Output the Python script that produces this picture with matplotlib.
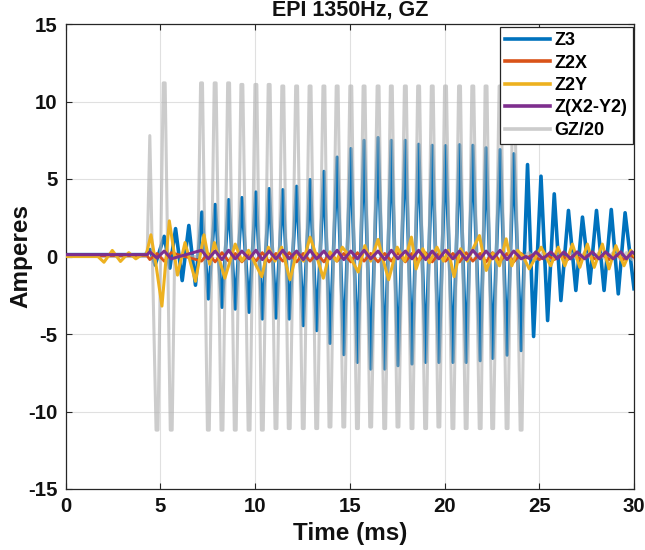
import numpy as np
import matplotlib
matplotlib.use("Agg")
import matplotlib.pyplot as plt

# ---------------- data ----------------
# GZ/20 : centres (ms) and plateau amplitudes of the trapezoid lobes
gz_lobe_t = [4.44, 4.82, 5.20, 5.57,
             7.17, 7.53, 7.89, 8.25, 8.60, 8.95, 9.30, 9.68, 10.04, 10.38,
             10.74, 11.10, 11.46, 11.80, 12.19, 12.54, 12.90, 13.25, 13.63, 13.95,
             14.33, 14.68, 15.05, 15.40, 15.75, 16.10, 16.49, 16.84, 17.19, 17.54,
             17.93, 18.28, 18.63, 19.00, 19.35, 19.70, 20.05, 20.44, 20.79, 21.14,
             21.49, 21.88, 22.19, 22.54, 22.93, 23.30, 23.65, 24.04]
gz_lobe_amp = [7.8, -11.2, 11.2, -11.2,
               11.2, -11.2, 11.2, -11.2, 11.2, -11.2, 11.1, -11.2, 11.1, -11.2,
               11.1, -11.1, 11.0, -11.1, 11.0, -11.1, 11.0, -11.1, 11.0, -11.0,
               11.0, -11.0, 11.0, -11.1, 11.0, -11.0, 11.0, -11.1, 11.0, -11.0,
               11.0, -11.1, 11.0, -11.1, 11.0, -11.0, 11.0, -11.1, 11.0, -11.1,
               11.0, -11.1, 11.0, -11.1, 11.0, -11.1, 11.0, -11.2]
gz_zero_t = [0.0, 4.30, 5.75, 6.98, 24.22]
gz_tail_t = [24.45, 24.82, 25.20, 25.61, 25.95, 26.30, 26.65, 27.00, 27.40,
             27.80, 28.15, 28.50, 28.90, 29.30, 29.60, 29.90, 30.00]
gz_tail_v = [0.25, -0.20, 0.25, -0.20, 0.25, -0.20, 0.25, -0.20, 0.25,
             -0.20, 0.25, -0.20, 0.25, -0.20, 0.25, -0.20, -0.10]

# Z3 : extrema (ms, A)
z3_t = [0.0, 4.20, 4.45, 4.72, 5.20, 5.50, 5.80, 6.15, 6.50, 6.85,
        7.19, 7.53, 7.89, 8.25, 8.60, 8.95, 9.30, 9.68, 10.04, 10.38,
        10.74, 11.10, 11.46, 11.80, 12.19, 12.54, 12.90, 13.25, 13.63, 13.95,
        14.33, 14.68, 15.05, 15.40, 15.75, 16.10, 16.49, 16.84, 17.19, 17.54,
        17.93, 18.28, 18.63, 19.00, 19.35, 19.70, 20.05, 20.44, 20.79, 21.14,
        21.49, 21.88, 22.19, 22.54, 22.93, 23.30, 23.65, 24.04,
        24.38, 24.70, 25.09, 25.44, 25.79, 26.14, 26.54, 26.93, 27.28, 27.67,
        28.02, 28.42, 28.80, 29.17, 29.53, 30.00]
z3_v = [0.12, 0.12, 0.45, -0.55, 1.30, -0.75, 1.80, -1.55, 2.00, -1.85,
        2.86, -2.73, 3.35, -3.27, 3.66, -3.38, 3.79, -3.59, 4.15, -4.02,
        4.37, -3.96, 4.30, -4.02, 4.52, -4.45, 4.95, -4.77, 5.48, -5.59,
        6.40, -6.32, 6.95, -6.82, 7.48, -7.25, 7.66, -7.25, 7.48, -7.03,
        7.48, -6.92, 7.23, -6.82, 7.16, -6.82, 7.14, -6.82, 7.20, -6.82,
        7.16, -6.71, 7.00, -6.56, 6.88, -6.35, 6.62, -6.06,
        5.93, -5.16, 5.18, -4.13, 4.04, -2.84, 2.97, -2.19, 2.54, -1.72,
        2.97, -2.19, 3.03, -2.41, 2.82, -2.08]

# Z2Y : extrema (ms, A)
z2y_t = [0.0, 1.70, 2.02, 2.46, 2.89, 3.33, 3.70, 4.00, 4.25, 4.50,
         4.75, 5.08, 5.47, 5.90, 6.30, 6.85, 7.30, 7.60, 7.85, 8.40,
         8.95, 9.30, 9.65, 10.35, 10.70, 11.05, 11.40, 11.84, 12.20, 12.55,
         12.90, 13.25, 13.60, 13.95, 14.30, 14.60, 15.00, 15.44, 15.79, 16.10,
         16.49, 16.75, 17.05, 17.50, 17.90, 18.25, 18.50, 18.85, 19.20, 19.60,
         19.95, 20.20, 20.50, 20.85, 21.20, 21.50, 21.84, 22.20, 22.55, 22.90,
         23.25, 23.55, 23.85, 24.15, 24.47, 25.10, 25.60, 26.00, 26.35, 26.75,
         27.14, 27.54, 27.90, 28.33, 28.68, 29.04, 29.47, 29.83, 30.00]
z2y_v = [0.0, 0.0, -0.37, 0.39, -0.32, 0.25, -0.15, 0.10, 0.10, 1.40,
         -0.40, -3.20, 2.30, -1.20, 0.90, -1.60, 1.40, -0.50, 0.90, -1.40,
         0.80, -0.30, 0.40, -1.30, 0.60, -0.30, 0.60, -1.50, 0.30, -0.30,
         1.25, 0.00, -1.40, 0.30, -0.30, 0.60, 0.00, -1.00, 0.70, -0.30,
         1.10, -0.20, -1.50, 0.60, -0.30, 1.25, -0.80, 0.50, -0.40, 0.60,
         -0.30, 0.40, -1.30, 0.50, -0.30, 0.50, 1.35, -0.90, 0.20, -0.60,
         1.14, -0.60, 0.40, 0.00, -0.80, 0.60, -0.60, 0.60, -0.60, 0.80,
         -0.70, 0.80, -0.70, 0.80, -0.80, 0.70, -0.60, 0.40, 0.10]

# Z(X2-Y2) and Z2X : values at the GZ lobe centres, plus baseline and tail
zx2y2_base_t = [0.0, 4.30]
zx2y2_base_v = [0.12, 0.12]
zx2y2_lobe_v = [0.30, -0.10, 0.35, -0.15,
                0.40, -0.15, 0.35, -0.20, 0.40, -0.15, 0.35, -0.15, 0.40, -0.20,
                0.35, -0.15, 0.40, -0.15, 0.35, -0.20, 0.40, -0.15, 0.35, -0.15,
                0.40, -0.20, 0.35, -0.15, 0.40, -0.15, 0.35, -0.20, 0.40, -0.15,
                0.35, -0.15, 0.40, -0.20, 0.35, -0.15, 0.40, -0.15, 0.35, -0.20,
                0.40, -0.15, 0.35, -0.15, 0.40, -0.20, 0.35, -0.15]
zx2y2_tail_t = [24.30, 24.50, 24.82, 25.20, 25.61, 25.95, 26.30, 26.65, 27.00,
                27.40, 27.80, 28.15, 28.50, 28.90, 29.30, 29.60, 29.90, 30.00]
zx2y2_tail_v = [0.00, -0.15, 0.30, -0.15, 0.30, -0.15, 0.30, -0.15, 0.30,
                -0.15, 0.30, -0.15, 0.30, -0.15, 0.30, -0.15, 0.30, 0.20]

z2x_base_t = [0.0, 4.30]
z2x_base_v = [0.05, 0.05]
z2x_lobe_v = [-0.20, 0.20, -0.30, 0.25,
              -0.30, 0.20, -0.35, 0.25, -0.30, 0.20, -0.35, 0.20, -0.30, 0.25,
              -0.35, 0.20, -0.30, 0.25, -0.35, 0.20, -0.30, 0.20, -0.35, 0.25,
              -0.30, 0.20, -0.35, 0.25, -0.30, 0.20, -0.35, 0.20, -0.30, 0.25,
              -0.35, 0.20, -0.30, 0.25, -0.35, 0.20, -0.30, 0.20, -0.35, 0.25,
              -0.30, 0.20, -0.35, 0.25, -0.30, 0.20, -0.35, 0.20]
z2x_tail_t = [24.30, 24.65, 25.00, 25.40, 25.80, 26.15, 26.50, 26.85, 27.20,
              27.60, 28.00, 28.35, 28.70, 29.10, 29.45, 29.80, 30.00]
z2x_tail_v = [-0.10, 0.10, -0.20, 0.10, -0.20, 0.10, -0.20, 0.10, -0.20,
              0.10, -0.20, 0.10, -0.20, 0.10, -0.20, 0.10, -0.05]

# ---------------- build GZ/20 trapezoid vertices ----------------
gz_pts = [(t, 0.0) for t in gz_zero_t]
for t, a in zip(gz_lobe_t, gz_lobe_amp):
    w = 0.05 if abs(a) > 9 else 0.0
    if w:
        gz_pts += [(t - w, a), (t + w, a)]
    else:
        gz_pts.append((t, a))
gz_pts += list(zip(gz_tail_t, gz_tail_v))
gz_pts.sort()
gz_t = [p[0] for p in gz_pts]
gz_v = [p[1] for p in gz_pts]

zx2y2_t = zx2y2_base_t + gz_lobe_t + zx2y2_tail_t
zx2y2_v = zx2y2_base_v + zx2y2_lobe_v + zx2y2_tail_v
z2x_t = z2x_base_t + gz_lobe_t + z2x_tail_t
z2x_v = z2x_base_v + z2x_lobe_v + z2x_tail_v

# ---------------- figure ----------------
plt.rcParams['font.family'] = ['Liberation Sans', 'DejaVu Sans']
plt.rcParams['font.weight'] = 'bold'
plt.rcParams['axes.unicode_minus'] = False

fig = plt.figure(figsize=(6.45, 5.5), dpi=100)
L, R, T, B = 65.7, 634.0, 24.0, 489.0
ax = fig.add_axes([L / 645, 1 - B / 550, (R - L) / 645, (B - T) / 550])

h_z3, = ax.plot(z3_t, z3_v, color='#0072BD', lw=2.6, zorder=2, label='Z3',
                solid_joinstyle='round')
h_gz, = ax.plot(gz_t, gz_v, color='#B4B4B4', alpha=0.68, lw=2.2, zorder=3,
                label='GZ/20', solid_joinstyle='round')
h_z2x, = ax.plot(z2x_t, z2x_v, color='#D95319', lw=2.0, zorder=4, label='Z2X')
h_z2y, = ax.plot(z2y_t, z2y_v, color='#EDB120', lw=2.2, zorder=5, label='Z2Y',
                 solid_joinstyle='round')
h_zx, = ax.plot(zx2y2_t, zx2y2_v, color='#7E2F8E', lw=2.2, zorder=6,
                label='Z(X2-Y2)')

ax.set_xlim(0, 30)
ax.set_ylim(-15, 15)
ax.set_xticks(np.arange(0, 31, 5))
ax.set_yticks(np.arange(-15, 16, 5))
ax.grid(True, color='#E0E0E0', lw=0.8)
ax.set_axisbelow(True)
ax.tick_params(direction='in', length=4.5, width=0.8, top=True, right=True,
               labelsize=14.7, pad=6, color='#262626', labelcolor='#111111')
for s in ax.spines.values():
    s.set_color('#262626')
    s.set_linewidth(0.9)

ax.set_title('EPI 1350Hz, GZ', fontsize=15.5, fontweight='bold', pad=6,
             color='#111111')
ax.set_xlabel('Time (ms)', fontsize=17.5, fontweight='bold', labelpad=4,
              color='#111111')
ax.set_ylabel('Amperes', fontsize=17.5, fontweight='bold', labelpad=-3,
              color='#111111')

leg = ax.legend(handles=[h_z3, h_z2x, h_z2y, h_zx, h_gz],
                loc='upper right', bbox_to_anchor=(0.998, 0.994),
                borderaxespad=0, fontsize=13, frameon=True, fancybox=False,
                framealpha=1, edgecolor='#262626', borderpad=0.3,
                labelspacing=0.3, handlelength=2.5, handletextpad=0.25)
leg.get_frame().set_linewidth(0.9)
leg.set_zorder(10)
for ln in leg.get_lines():
    ln.set_linewidth(2.6)

fig.savefig('out.png', dpi=100)
